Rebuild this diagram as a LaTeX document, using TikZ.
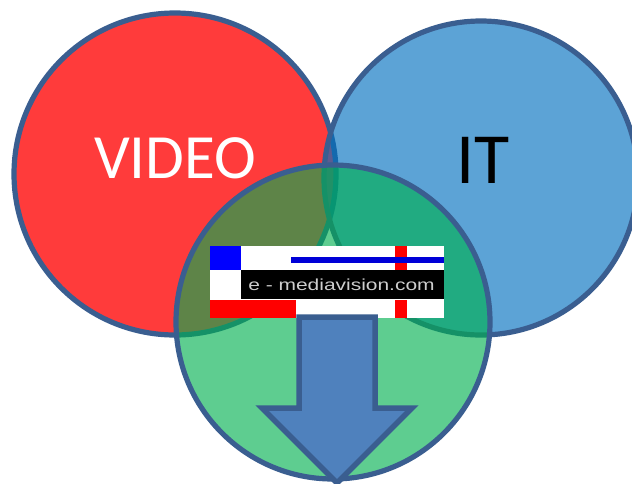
\documentclass[tikz,border=0pt]{standalone}
\usepackage{fontspec}
\setmainfont{Carlito}
\newfontfamily\logofont{Liberation Sans}
\definecolor{edge}{HTML}{3A5E90}
\definecolor{arrowfill}{HTML}{4F81BD}
\definecolor{vennblue}{RGB}{0,112,192}
\definecolor{venngreen}{RGB}{0,176,80}
\definecolor{logoblue}{RGB}{0,0,215}
\definecolor{logotext}{RGB}{205,205,205}
\tikzset{
  ring/.style={draw=edge,line width=5.2pt},
  biglabel/.style={inner sep=0pt,anchor=center}
}
\begin{document}
\begin{tikzpicture}[x=1pt,y=-1pt]
\useasboundingbox (0,0) rectangle (632,483);
\clip (0,0) rectangle (632,483);
\fill[white] (0,0) rectangle (632,483);
% circles
\draw[ring,fill=red,fill opacity=.77] (175,174) circle[radius=161];
\draw[ring,fill=vennblue,fill opacity=.64] (481,178) circle[radius=157];
\node[biglabel,text=white,font=\fontsize{63}{63}\selectfont] (video) at (175,158) {VIDEO};
\node[biglabel,text=black,font=\fontsize{72}{72}\selectfont] (it) at (483,160) {IT};
\fill[venngreen,fill opacity=.63] (333,322) circle[radius=157];
\draw[ring] (333,322) circle[radius=157];
% logo
\fill[white] (210,246) rectangle (444,318);
\fill[blue] (210,246) rectangle (241,270);
\fill[black] (241,270) rectangle (444,299);
\fill[red] (210,300) rectangle (296,318);
\fill[red] (395,246) rectangle (407,270);
\fill[red] (395,300) rectangle (407,318);
\fill[logoblue] (291,257) rectangle (444,262.5);
\node[inner sep=0pt,text=logotext,anchor=center,xscale=1.31] (logo) at (341.5,284.5)
  {\logofont\fontsize{16}{16}\selectfont e - mediavision.com};
% arrow
\draw[edge,line width=5.5pt,fill=arrowfill,miter limit=10]
  (299,317) -- (375,317) -- (375,408) -- (412,408) -- (337,483) -- (262,408) -- (299,408) -- cycle;
\end{tikzpicture}
\end{document}
